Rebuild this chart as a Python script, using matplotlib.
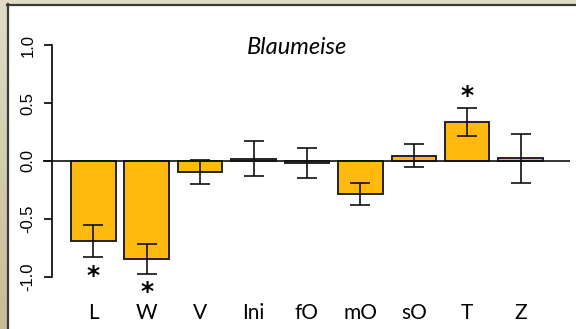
import numpy as np
import matplotlib.pyplot as plt
from matplotlib.patches import Rectangle

# Datos
categorias = ["L", "W", "V", "Ini", "fO", "mO", "sO", "T", "Z"]
valores = [-0.69, -0.85, -0.095, 0.02, -0.02, -0.288, 0.045, 0.34, 0.023]
errores = [0.14, 0.13, 0.105, 0.15, 0.13, 0.095, 0.10, 0.12, 0.213]
asteriscos = [-0.99, -1.13, None, None, None, None, None, 0.56, None]

W, H = 576, 329
fig = plt.figure(figsize=(W / 100, H / 100), dpi=100)

# Marco beige de fondo
fondo = fig.add_axes([0, 0, 1, 1], zorder=-5)
grad = np.linspace(0, 1, 256).reshape(-1, 1)
c_top = np.array([0.882, 0.863, 0.788])
c_bot = np.array([0.773, 0.741, 0.588])
img = c_top[None, None, :] * (1 - grad[:, :, None]) + c_bot[None, None, :] * grad[:, :, None]
fondo.imshow(img, aspect="auto", extent=[0, 1, 0, 1])
fondo.add_patch(Rectangle((8 / W, 0), 1, 1 - 5 / H, color="white", zorder=2))
fondo.plot([7.5 / W, 7.5 / W], [0, 1 - 4 / H], color="#3a3a3a", lw=1.6, zorder=3)
fondo.plot([7 / W, 1], [1 - 4.5 / H, 1 - 4.5 / H], color="#3a3a3a", lw=1.6, zorder=3)
fondo.set_xlim(0, 1)
fondo.set_ylim(0, 1)
fondo.axis("off")

# Grafica principal
ax = fig.add_axes([43 / W, 1 - 286 / H, (570 - 43) / W, 250 / H])
ax.patch.set_alpha(0)
x = 0.7 + 1.2 * np.arange(len(categorias))
ax.bar(x, valores, width=1.0, color="#FFB90F", edgecolor="#222222", linewidth=1.4, zorder=2)
ax.errorbar(x, valores, yerr=errores, fmt="none", ecolor="#111111", elinewidth=1.2,
            capsize=7, capthick=1.2, zorder=3)
ax.axhline(0, color="#111111", lw=1.2, zorder=4)

for xi, a in zip(x, asteriscos):
    if a is not None:
        ax.text(xi, a, "*", ha="center", va="center", fontsize=18, fontweight="bold",
                family="DejaVu Sans", clip_on=False)

ax.set_xlim(-0.43, 11.41)
ax.set_ylim(-1.08, 1.08)

for s in ["top", "right", "bottom"]:
    ax.spines[s].set_visible(False)
ax.spines["left"].set_position(("data", -0.224))
ax.spines["left"].set_bounds(-1, 1)
ax.spines["left"].set_linewidth(1.2)

ax.set_yticks([-1.0, -0.5, 0.0, 0.5, 1.0])
ax.set_yticklabels(["-1.0", "-0.5", "0.0", "0.5", "1.0"], rotation=90, va="center",
                   family="Liberation Sans", fontsize=12)
ax.tick_params(axis="y", length=6, width=1.2, pad=6)

ax.set_xticks(x)
ax.set_xticklabels(categorias, family="Lato", fontsize=15)
ax.tick_params(axis="x", length=0, pad=12)

ax.text(0.482, 0.955, "Blaumeise", transform=ax.transAxes, ha="center", va="center",
        family="Lato", style="italic", fontsize=17)

fig.savefig("out.png", dpi=100)
